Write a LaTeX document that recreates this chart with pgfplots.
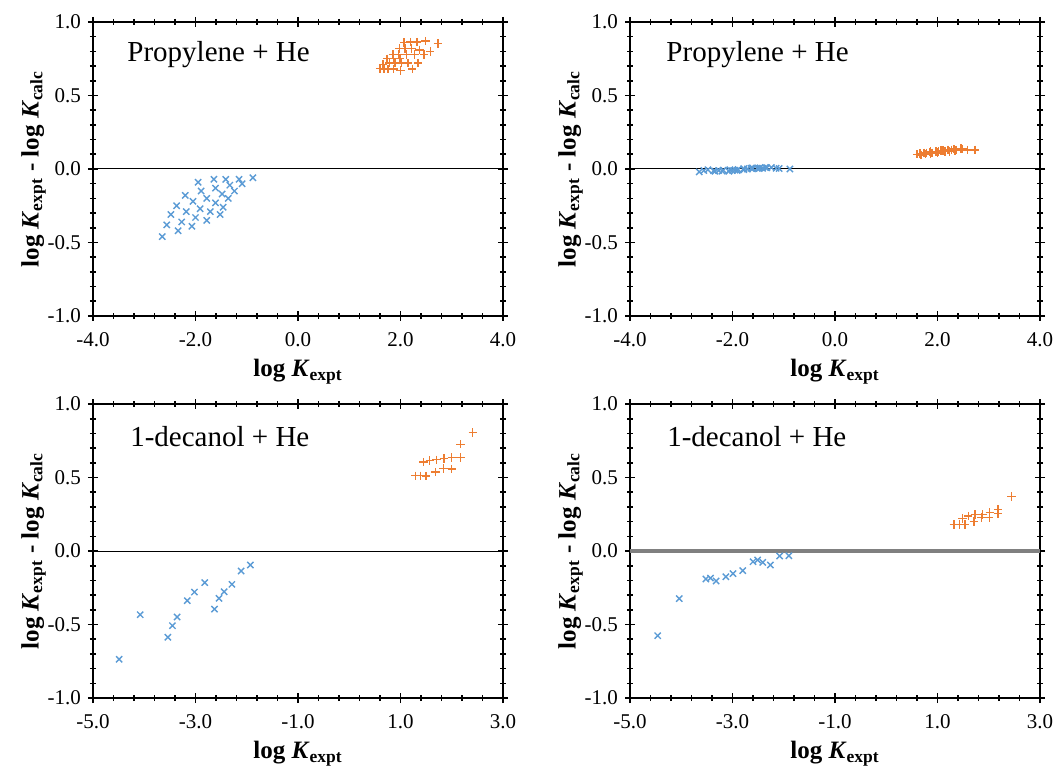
\documentclass[border=0pt]{standalone}
\usepackage{fontspec}
\setmainfont{Liberation Serif}
\usepackage{pgfplots}
\pgfplotsset{compat=1.18}

\definecolor{cblue}{RGB}{91,155,213}
\definecolor{corange}{RGB}{237,125,49}

\tikzset{ttl/.style={font=\fontsize{14.5}{16}\selectfont, anchor=west, inner sep=0pt}}

\pgfplotsset{
  panel/.style={
    scale only axis, width=205pt, height=147pt,
    anchor=south west,
    ymin=-1, ymax=1,
    ytick={-1,-0.5,0,0.5,1},
    minor x tick num=4, minor y tick num=4,
    tick align=center,
    major tick length=5pt, minor tick length=3pt,
    axis line style={line width=0.8pt},
    every tick/.style={black, line width=0.8pt},
    /pgf/number format/.cd, fixed, fixed zerofill, precision=1, assume math mode=true,
    /pgfplots/.cd,
    tick label style={font=\fontsize{10.5}{12}\selectfont},
    xticklabel style={yshift=-2pt},
    xlabel={\textbf{log \textit{K}\textsubscript{expt}}},
    ylabel={\textbf{log \textit{K}\textsubscript{expt} - log \textit{K}\textsubscript{calc}}},
    label style={font=\fontsize{12.5}{14}\selectfont},
    x label style={at={(axis description cs:0.5,-0.19)}, anchor=center},
    y label style={at={(axis description cs:-0.145,0.5)}, anchor=center},
    clip=false,
  },
  ser1/.style={only marks, mark=x, mark size=2.2pt, mark options={cblue, line width=0.7pt}},
  ser2/.style={only marks, mark=+, mark size=2.1pt, mark options={corange, line width=0.7pt}},
}

\begin{document}
\begin{tikzpicture}
\path[use as bounding box] (0,0) rectangle (529pt,385.5pt);

% top left
\begin{axis}[panel, at={(46.5pt,227.5pt)}, xmin=-4, xmax=4, xtick={-4,-2,0,2,4}]
\addplot[black, line width=0.5pt] coordinates {(-4,0) (4,0)};
\addplot[ser1] coordinates {
(-2.65,-0.46) (-2.56,-0.38) (-2.34,-0.42) (-2.48,-0.31) (-2.27,-0.36)
(-2.07,-0.39) (-2.37,-0.25) (-2.18,-0.29) (-2.00,-0.33) (-1.78,-0.35)
(-2.20,-0.18) (-2.05,-0.22) (-1.91,-0.27) (-1.71,-0.29) (-1.52,-0.31)
(-1.95,-0.09) (-1.89,-0.15) (-1.78,-0.20) (-1.61,-0.23) (-1.46,-0.26)
(-1.64,-0.07) (-1.61,-0.13) (-1.48,-0.17) (-1.36,-0.20) (-1.41,-0.07)
(-1.33,-0.11) (-1.24,-0.15) (-1.15,-0.07) (-1.09,-0.10) (-0.88,-0.06)
};
\addplot[ser2] coordinates {
(2.07,0.86) (2.19,0.864) (2.32,0.864) (2.49,0.87) (2.73,0.855)
(1.98,0.82) (2.09,0.82) (2.22,0.82) (2.37,0.81) (2.58,0.80)
(1.85,0.78) (1.96,0.78) (2.12,0.78) (2.27,0.78) (2.46,0.78)
(1.74,0.75) (1.86,0.75) (1.99,0.75) (2.15,0.72) (2.34,0.72)
(1.66,0.71) (1.78,0.72) (1.89,0.72) (2.02,0.72)
(1.60,0.685) (1.68,0.68) (1.76,0.68) (1.86,0.68) (2.00,0.67) (2.23,0.68)
};
\node[ttl] at (axis description cs:0.083,0.888) {Propylene + He};
\end{axis}

% top right
\begin{axis}[panel, at={(315pt,227.5pt)}, xmin=-4, xmax=4, xtick={-4,-2,0,2,4}]
\addplot[black, line width=0.5pt] coordinates {(-4,0) (4,0)};
\addplot[ser1] coordinates {
(-2.65,-0.02) (-2.56,-0.01) (-2.34,-0.015) (-2.48,-0.005) (-2.27,-0.01)
(-2.07,-0.015) (-2.37,-0.012) (-2.18,-0.008) (-2.00,-0.01) (-1.78,-0.005)
(-2.20,-0.015) (-2.05,-0.005) (-1.91,-0.01) (-1.71,0.0) (-1.52,0.005)
(-1.95,-0.008) (-1.89,-0.003) (-1.78,0.003) (-1.61,0.0) (-1.46,0.008)
(-1.64,0.005) (-1.61,0.008) (-1.48,0.003) (-1.36,0.01) (-1.41,0.005)
(-1.33,0.008) (-1.24,0.01) (-1.15,0.005) (-1.09,0.003) (-0.88,0.0)
};
\addplot[ser2] coordinates {
(2.07,0.125) (2.19,0.13) (2.32,0.135) (2.49,0.135) (2.73,0.13)
(1.98,0.12) (2.09,0.125) (2.22,0.13) (2.37,0.13) (2.58,0.13)
(1.85,0.115) (1.96,0.12) (2.12,0.125) (2.27,0.13) (2.46,0.14)
(1.74,0.11) (1.86,0.12) (1.99,0.115) (2.15,0.12) (2.34,0.125)
(1.66,0.105) (1.78,0.11) (1.89,0.11) (2.02,0.12)
(1.60,0.10) (1.68,0.095) (1.76,0.10) (1.86,0.105) (2.00,0.11) (2.23,0.12)
};
\node[ttl] at (axis description cs:0.088,0.888) {Propylene + He};
\end{axis}

% bottom left
\begin{axis}[panel, at={(46.5pt,36.5pt)}, xmin=-5, xmax=3, xtick={-5,-3,-1,1,3}]
\addplot[black, line width=0.5pt] coordinates {(-5,0) (3,0)};
\addplot[ser1] coordinates {
(-4.49,-0.737) (-4.08,-0.433) (-3.54,-0.587) (-3.45,-0.508) (-3.36,-0.449)
(-3.16,-0.338) (-3.02,-0.279) (-2.82,-0.215) (-2.63,-0.395) (-2.54,-0.322)
(-2.44,-0.277) (-2.29,-0.227) (-2.11,-0.136) (-1.93,-0.095)
};
\addplot[ser2] coordinates {
(1.29,0.512) (1.39,0.512) (1.50,0.51) (1.68,0.537) (1.84,0.56) (2.00,0.558)
(1.45,0.605) (1.57,0.617) (1.70,0.621) (1.85,0.628) (2.00,0.635) (2.17,0.635)
(2.17,0.726) (2.41,0.805)
};
\node[ttl] at (axis description cs:0.09,0.888) {1-decanol + He};
\end{axis}

% bottom right
\begin{axis}[panel, at={(315pt,36.5pt)}, xmin=-5, xmax=3, xtick={-5,-3,-1,1,3}]
\addplot[gray, line width=2pt] coordinates {(-5,0) (3,0)};
\addplot[ser1] coordinates {
(-4.46,-0.576) (-4.04,-0.324) (-3.52,-0.190) (-3.43,-0.184) (-3.32,-0.204)
(-3.13,-0.175) (-2.99,-0.154) (-2.80,-0.134) (-2.60,-0.073) (-2.51,-0.061)
(-2.41,-0.077) (-2.26,-0.095) (-2.08,-0.034) (-1.90,-0.032)
};
\addplot[ser2] coordinates {
(1.32,0.18) (1.43,0.18) (1.54,0.18) (1.49,0.22) (1.60,0.238) (1.71,0.20)
(1.73,0.247) (1.86,0.229) (1.88,0.247) (2.01,0.227) (2.02,0.263) (2.18,0.254)
(2.18,0.284) (2.44,0.37)
};
\node[ttl] at (axis description cs:0.09,0.888) {1-decanol + He};
\end{axis}
\end{tikzpicture}
\end{document}
